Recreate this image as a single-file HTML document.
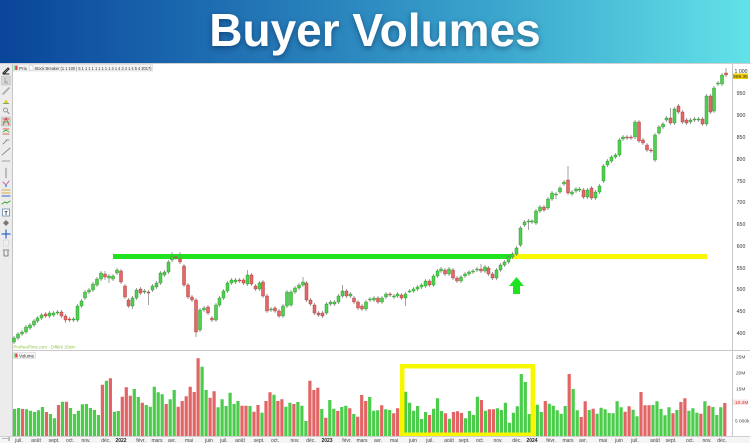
<!DOCTYPE html>
<html><head><meta charset="utf-8"><style>
html,body{margin:0;padding:0;background:#fff}
body{width:750px;height:443px;overflow:hidden;position:relative;font-family:"Liberation Sans",sans-serif}
#hdr{position:absolute;left:0;top:0;width:750px;height:63px;background:linear-gradient(90deg,#0a459a 0%,#1f6fb2 30%,#3aa3cc 65%,#62e2e8 100%)}
#ttl{position:absolute;left:0;top:7px;width:750px;text-align:center;font:bold 46px/46px "Liberation Sans",sans-serif;color:#fff;text-shadow:0 2px 6px rgba(0,20,60,.45)}
svg{position:absolute;left:0;top:0}
</style></head><body>
<div id="hdr"></div>
<div id="ttl">Buyer Volumes</div>
<svg width="750" height="443" viewBox="0 0 750 443" xmlns="http://www.w3.org/2000/svg" font-family="Liberation Sans, sans-serif">
<!-- chart frame -->
<rect x="0" y="63" width="750" height="380" fill="#fff"/>
<line x1="0" y1="63.5" x2="750" y2="63.5" stroke="#d0d0d0" stroke-width="1"/>
<!-- toolbar -->
<rect x="0" y="64" width="12" height="372" fill="#ececec"/>
<line x1="12.5" y1="64" x2="12.5" y2="436" stroke="#c4c4c4"/>
<g stroke-linecap="round">
<path d="M3 73l5-5 1 1-5 5zM3 74h6" stroke="#222" stroke-width="1" fill="none"/>
<rect x="1.5" y="76" width="9" height="9" fill="#d6d6d6" stroke="#bbb" stroke-width=".5"/>
<path d="M5 78v5l1.5-1.5 1 2" stroke="#999" stroke-width=".8" fill="none"/>
<path d="M3 94l6-6" stroke="#aaa" stroke-width="1.6"/>
<path d="M4 103q2-6 4 0z" fill="#e8c810"/><rect x="3" y="103" width="6" height="1" fill="#7a7"/>
<circle cx="5.5" cy="110" r="2" fill="none" stroke="#888" stroke-width=".8"/><path d="M7 111.5l2 2" stroke="#888"/>
<rect x="1.5" y="117" width="9" height="9" fill="#d6d6d6" stroke="#bbb" stroke-width=".5"/>
<path d="M3 125l3-7 3 7M3 119h6" stroke="#d33" stroke-width=".8" fill="none"/><path d="M3 122h6" stroke="#3b3" stroke-width=".8"/>
<path d="M3 129h6M3 134h6" stroke="#d33" stroke-width=".8"/><path d="M3 132l3-2 3 2" stroke="#3b3" stroke-width=".8" fill="none"/>
<path d="M3 144l4-4M6 140h3" stroke="#777" stroke-width=".8"/>
<path d="M2 155l8-7" stroke="#666" stroke-width=".7"/>
<path d="M2 161h8" stroke="#888" stroke-width=".7"/>
<path d="M6 168v10" stroke="#666" stroke-width=".7"/>
<path d="M3 182l3 3 3-4" stroke="#c6a" stroke-width="1" fill="none"/><circle cx="6" cy="186" r="1" fill="#39f"/>
<path d="M2 190h8M2 193h8" stroke="#da4" stroke-width="1"/><path d="M2 196h8" stroke="#36c" stroke-width="1"/>
<path d="M2 204l3-2 2 1 3-2" stroke="#3a3" stroke-width="1" fill="none"/>
<rect x="2.5" y="209" width="7" height="7" fill="#fff" stroke="#369" stroke-width=".6"/><text x="6" y="215" font-size="5" text-anchor="middle" font-weight="bold" fill="#222">T</text>
<path d="M3 223l3-3 3 3-3 3z" fill="#777"/>
<path d="M6 230v8M2 234h8" stroke="#36c" stroke-width="1.2"/>
<rect x="3.5" y="240" width="5" height="6" fill="#eee" stroke="#ccc" stroke-width=".5"/>
<path d="M3 250h6M4 251v5h4v-5" stroke="#666" stroke-width=".8" fill="none"/>
</g>
<!-- legend -->
<rect x="13.5" y="64.5" width="139" height="6.5" fill="#f4f4f4" stroke="#cfcfcf" stroke-width=".5"/>
<rect x="14.5" y="65.5" width="1.5" height="4.5" fill="#3c3"/><rect x="16" y="65.5" width="1.5" height="4.5" fill="#d44"/>
<text x="19" y="69.8" font-size="4.6" fill="#333">Prix</text>
<rect x="29.5" y="65.5" width="3.5" height="4.5" fill="#fff" stroke="#bbb" stroke-width=".4"/>
<text x="34.5" y="69.8" font-size="4.6" fill="#333" textLength="117" lengthAdjust="spacingAndGlyphs">Stock Breaker (1 1 100 | 5 1 1 1 1 1 1 1 1 1 4 1 4 2 4 1 4 5 4 2017)</text>
<!-- right axis -->
<line x1="732.5" y1="64" x2="732.5" y2="436" stroke="#c8c8c8"/>
<g font-size="5.2" fill="#333" text-anchor="middle">
<text x="741" y="72.8">1 000</text>
<text x="741" y="94.8">950</text>
<text x="741" y="116.8">900</text>
<text x="741" y="138.8">850</text>
<text x="741" y="160.8">800</text>
<text x="741" y="182.8">750</text>
<text x="741" y="203.8">700</text>
<text x="741" y="225.8">650</text>
<text x="741" y="247.8">600</text>
<text x="741" y="269.8">550</text>
<text x="741" y="290.8">500</text>
<text x="741" y="312.8">450</text>
<text x="741" y="334.8">400</text>
</g>
<rect x="733" y="73.5" width="15" height="5.5" fill="#f2d000"/>
<text x="740.5" y="77.9" font-size="4.8" fill="#333" text-anchor="middle">969.35</text>
<!-- separator -->
<line x1="12" y1="350.5" x2="750" y2="350.5" stroke="#c8c8c8"/>
<text x="13.5" y="348.5" font-size="4.4" fill="#8cc63f" textLength="62" lengthAdjust="spacingAndGlyphs">ProRealTime.com - Différé 15min</text>
<!-- levels -->
<rect x="113" y="254" width="398" height="5" fill="#1fe31f"/>
<rect x="511" y="254" width="196" height="5" fill="#f7f700"/>
<polygon points="509,286 516.5,277 524,286 520,286 520,294 513,294 513,286" fill="#1fe31f"/>
<!-- wicks -->
<path fill="none" stroke="#7c7c7c" stroke-width=".7" d="M14 336V344M18 332V340M22 330V336M26 325V334M30 323V330M34 319V327M37.5 316V323M41.5 313V320M45.5 312V318M49.5 311V318M53.5 311V317M57.5 310V315M61.5 310V318M65.5 314V323M69.5 317V322M73.5 317V322M77.5 304V322M81.5 299V308M85 290V300M89 288V294M93 282V292M97 277V287M101 271V281M105 271V280M109 274V283M113 274V281M117 268V275M121 269V284M125 284V299M128.5 298V308M132.5 296V309M136.5 288V300M140.5 287V295M144.5 289V294M148.5 290V305M152.5 284V292M156.5 281V289M160.5 271V285M164.5 270V277M168.5 260V274M172 252V262M176 255V260M180 252V264M184 264V287M188 283V299M192 295V302M196 298V337M200 308V332M204 306V312M208 305V315M212 316V322M216 303V322M219.5 296V307M223.5 289V300M227.5 281V293M231.5 278V285M235.5 278V284M239.5 278V283M243.5 278V285M247.5 270V286M251.5 273V286M255.5 284V291M259.5 281V291M263 280V298M267 294V313M271 307V312M275 306V313M279 309V318M283 304V318M287 290V308M291 290V307M295 286V294M299 283V290M303 277V287M306.5 281V302M310.5 298V306M314.5 303V315M318.5 311V317M322.5 311V318M326.5 302V315M330.5 300V306M334.5 300V306M338.5 294V304M342.5 285V298M346.5 289V298M350.5 292V298M354 296V304M358 300V310M362 304V311M366 300V311M370 297V302M374 296V302M378 296V304M382 296V304M386 292V299M390 292V297M394 294V299M397.5 292V298M401.5 293V300M405.5 292V306M409.5 289V293M413.5 287V293M417.5 285V291M421.5 283V289M425.5 279V288M429.5 279V287M433.5 274V287M437.5 269V278M441 267V273M445 268V276M449 267V276M453 268V280M457 276V283M461 275V283M465 272V278M469 270V276M473 269V274M477 267V272M481 264V273M485 265V273M488.5 266V276M492.5 272V280M496.5 268V280M500.5 263V272M504.5 260V267M508.5 255V264M512.5 252V259M516.5 246V256M520.5 226V247M524.5 220V227M528.5 219V230M532 219V224M536 209V225M540 205V213M544 205V212M548 197V210M552 191V201M556 192V199M560 186V194M564 180V186M568 166V195M572 190V196M576 187V193M579.5 187V192M583.5 188V199M587.5 188V199M591.5 186V200M595.5 190V200M599.5 184V194M603.5 164V183M607.5 159V167M611.5 155V163M615.5 153V159M619.5 138V157M623 135V141M627 135V140M631 135V140M635 120V139M639 120V143M643 138V145M647 143V152M651 148V153M655 133V162M659 125V135M663 122V129M666.5 116V122M670.5 108V125M674.5 107V125M678.5 104V114M682.5 110V124M686.5 118V125M690.5 118V124M694.5 117V122M698.5 117V122M702.5 117V126M706.5 94V126M710.5 94V114M714 86V113M718 81V86M722 73V86M726 68V77"/>
<!-- green bodies -->
<path fill="#4ed24e" stroke="#2b8f2b" stroke-width=".45" d="M12.5 338h3v4h-3zM16.5 334h3v4h-3zM20.5 332h3v2h-3zM24.5 327h3v5h-3zM28.5 325h3v3h-3zM32.5 321h3v4h-3zM36 318h3v3h-3zM40 315h3v3h-3zM48 313h3v3h-3zM52 313h3v2h-3zM56 312h3v1h-3zM72 319h3v1h-3zM76 306h3v14h-3zM80 301h3v5h-3zM83.5 292h3v6h-3zM87.5 290h3v2h-3zM91.5 284h3v6h-3zM95.5 279h3v6h-3zM99.5 273h3v6h-3zM107.5 276h3v2h-3zM111.5 276h3v3h-3zM115.5 270h3v3h-3zM131 298h3v8h-3zM135 290h3v8h-3zM143 291h3v1h-3zM151 286h3v4h-3zM155 283h3v4h-3zM159 273h3v10h-3zM163 272h3v3h-3zM167 262h3v10h-3zM170.5 257h3v3h-3zM198.5 310h3v20h-3zM202.5 308h3v2h-3zM214.5 305h3v15h-3zM218 298h3v7h-3zM222 291h3v7h-3zM226 283h3v8h-3zM230 280h3v3h-3zM234 280h3v2h-3zM246 275h3v9h-3zM258 283h3v6h-3zM269.5 309h3v1h-3zM281.5 306h3v10h-3zM285.5 292h3v14h-3zM289.5 292h3v13h-3zM293.5 288h3v4h-3zM297.5 285h3v3h-3zM301.5 282h3v3h-3zM325 304h3v9h-3zM329 302h3v2h-3zM333 302h3v2h-3zM337 296h3v6h-3zM341 291h3v5h-3zM349 294h3v2h-3zM364.5 302h3v7h-3zM368.5 299h3v1h-3zM372.5 298h3v2h-3zM380.5 298h3v4h-3zM384.5 294h3v3h-3zM392.5 296h3v1h-3zM396 294h3v2h-3zM404 294h3v4h-3zM408 291h3v1h-3zM412 289h3v2h-3zM416 287h3v2h-3zM420 285h3v2h-3zM424 281h3v5h-3zM432 276h3v9h-3zM436 271h3v5h-3zM439.5 269h3v2h-3zM447.5 269h3v5h-3zM459.5 277h3v4h-3zM463.5 274h3v2h-3zM467.5 272h3v2h-3zM471.5 271h3v1h-3zM475.5 269h3v1h-3zM483.5 267h3v4h-3zM495 270h3v8h-3zM499 265h3v5h-3zM503 262h3v3h-3zM507 257h3v5h-3zM511 254h3v3h-3zM515 248h3v6h-3zM519 228h3v17h-3zM523 222h3v3h-3zM527 221h3v1h-3zM530.5 221h3v1h-3zM534.5 211h3v12h-3zM538.5 207h3v4h-3zM546.5 199h3v9h-3zM550.5 193h3v6h-3zM554.5 194h3v1h-3zM558.5 188h3v4h-3zM562.5 182h3v2h-3zM570.5 192h3v2h-3zM574.5 189h3v2h-3zM578 189h3v1h-3zM586 190h3v7h-3zM594 192h3v6h-3zM598 186h3v6h-3zM602 166h3v15h-3zM606 161h3v4h-3zM610 157h3v4h-3zM614 155h3v2h-3zM618 140h3v15h-3zM621.5 137h3v2h-3zM633.5 122h3v15h-3zM653.5 135h3v25h-3zM657.5 127h3v6h-3zM661.5 124h3v3h-3zM665 118h3v2h-3zM673 109h3v14h-3zM689 120h3v2h-3zM693 119h3v1h-3zM697 119h3v1h-3zM705 96h3v28h-3zM712.5 88h3v23h-3zM716.5 83h3v1h-3zM720.5 75h3v9h-3z"/>
<!-- red bodies -->
<path fill="#e46868" stroke="#a83a3a" stroke-width=".45" d="M44 314h3v2h-3zM60 312h3v4h-3zM64 316h3v4h-3zM68 319h3v1h-3zM103.5 274h3v3h-3zM119.5 271h3v11h-3zM123.5 286h3v11h-3zM127 300h3v6h-3zM139 289h3v4h-3zM147 292h3v1h-3zM174.5 257h3v1h-3zM178.5 259h3v3h-3zM182.5 266h3v19h-3zM186.5 285h3v12h-3zM190.5 297h3v3h-3zM194.5 300h3v32h-3zM206.5 307h3v6h-3zM210.5 318h3v2h-3zM238 280h3v1h-3zM242 280h3v3h-3zM250 275h3v9h-3zM254 286h3v3h-3zM261.5 282h3v14h-3zM265.5 296h3v15h-3zM273.5 308h3v3h-3zM277.5 311h3v5h-3zM305 283h3v17h-3zM309 300h3v4h-3zM313 305h3v8h-3zM317 313h3v2h-3zM321 313h3v3h-3zM345 291h3v5h-3zM352.5 298h3v4h-3zM356.5 302h3v6h-3zM360.5 306h3v3h-3zM376.5 298h3v4h-3zM388.5 294h3v1h-3zM400 295h3v3h-3zM428 281h3v4h-3zM443.5 270h3v4h-3zM451.5 270h3v8h-3zM455.5 278h3v3h-3zM479.5 269h3v2h-3zM487 268h3v6h-3zM491 274h3v4h-3zM542.5 207h3v3h-3zM566.5 180h3v13h-3zM582 190h3v7h-3zM590 188h3v10h-3zM625.5 137h3v1h-3zM629.5 137h3v1h-3zM637.5 122h3v19h-3zM641.5 140h3v3h-3zM645.5 145h3v5h-3zM649.5 150h3v1h-3zM669 118h3v5h-3zM677 106h3v6h-3zM681 112h3v10h-3zM685 120h3v3h-3zM701 119h3v5h-3zM709 96h3v16h-3zM724.5 73h3v2h-3z"/>
<!-- volume legend -->
<rect x="13.5" y="352.5" width="22" height="6" fill="#f4f4f4" stroke="#cfcfcf" stroke-width=".5"/>
<rect x="14.5" y="353.5" width="1.5" height="4" fill="#3c3"/><rect x="16" y="353.5" width="1.5" height="4" fill="#d44"/>
<text x="19" y="357.4" font-size="4.4" fill="#333" textLength="15" lengthAdjust="spacingAndGlyphs">Volume</text>
<!-- volume bars -->
<path fill="#4bcd4b" d="M13 436V409h3.2V436zM17 436V408h3.2V436zM25 436V409.3h3.2V436zM29 436V410.7h3.2V436zM33 436V412h3.2V436zM36.9 436V410.3h3.2V436zM40.9 436V407h3.2V436zM48.9 436V414h3.2V436zM52.9 436V418.3h3.2V436zM60.9 436V401.7h3.2V436zM68.9 436V408h3.2V436zM72.9 436V414h3.2V436zM76.8 436V410.7h3.2V436zM80.8 436V404.3h3.2V436zM84.8 436V404h3.2V436zM88.8 436V408h3.2V436zM92.8 436V410h3.2V436zM96.8 436V415h3.2V436zM104.8 436V380.7h3.2V436zM112.8 436V411.7h3.2V436zM116.7 436V411h3.2V436zM132.7 436V389h3.2V436zM136.7 436V397h3.2V436zM144.7 436V405h3.2V436zM148.7 436V406.7h3.2V436zM152.7 436V386.7h3.2V436zM156.6 436V392.3h3.2V436zM160.6 436V394.3h3.2V436zM168.6 436V399.3h3.2V436zM172.6 436V390h3.2V436zM200.5 436V366.7h3.2V436zM204.5 436V390h3.2V436zM216.5 436V407.3h3.2V436zM220.5 436V399.3h3.2V436zM224.5 436V406h3.2V436zM228.5 436V392.7h3.2V436zM232.5 436V404h3.2V436zM236.4 436V401h3.2V436zM248.4 436V406h3.2V436zM260.4 436V412.7h3.2V436zM272.4 436V394.7h3.2V436zM284.3 436V406.7h3.2V436zM288.3 436V402.7h3.2V436zM296.3 436V402h3.2V436zM300.3 436V405.7h3.2V436zM304.3 436V421h3.2V436zM320.2 436V409h3.2V436zM328.2 436V400h3.2V436zM332.2 436V408.7h3.2V436zM340.2 436V407h3.2V436zM344.2 436V405.7h3.2V436zM352.2 436V414h3.2V436zM368.1 436V397h3.2V436zM372.1 436V410.7h3.2V436zM376.1 436V410.3h3.2V436zM384.1 436V409.3h3.2V436zM388.1 436V410h3.2V436zM400 436V416h3.2V436zM404 436V391.7h3.2V436zM408 436V402.7h3.2V436zM412 436V410.7h3.2V436zM416 436V406h3.2V436zM420 436V419h3.2V436zM424 436V412h3.2V436zM432 436V408.7h3.2V436zM435.9 436V398.3h3.2V436zM439.9 436V411h3.2V436zM447.9 436V418.7h3.2V436zM463.9 436V418.3h3.2V436zM467.9 436V411h3.2V436zM471.9 436V415h3.2V436zM475.8 436V396.7h3.2V436zM483.8 436V410.7h3.2V436zM495.8 436V408.3h3.2V436zM499.8 436V410h3.2V436zM503.8 436V402.7h3.2V436zM507.8 436V422.7h3.2V436zM511.8 436V412.7h3.2V436zM515.7 436V406.3h3.2V436zM519.7 436V374h3.2V436zM523.7 436V382h3.2V436zM527.7 436V414h3.2V436zM531.7 436V410h3.2V436zM535.7 436V404.7h3.2V436zM539.7 436V412h3.2V436zM547.7 436V403.7h3.2V436zM551.7 436V405.7h3.2V436zM555.6 436V410.3h3.2V436zM559.6 436V413.7h3.2V436zM563.6 436V406h3.2V436zM571.6 436V389h3.2V436zM575.6 436V410.3h3.2V436zM587.6 436V410h3.2V436zM595.5 436V413.7h3.2V436zM599.5 436V407.7h3.2V436zM603.5 436V409.3h3.2V436zM607.5 436V413h3.2V436zM611.5 436V413.3h3.2V436zM615.5 436V401.3h3.2V436zM619.5 436V407.3h3.2V436zM631.5 436V409.7h3.2V436zM635.4 436V416.3h3.2V436zM651.4 436V405h3.2V436zM655.4 436V401.3h3.2V436zM659.4 436V409h3.2V436zM663.4 436V415.3h3.2V436zM667.4 436V407.3h3.2V436zM675.3 436V410h3.2V436zM687.3 436V410.7h3.2V436zM691.3 436V408.3h3.2V436zM695.3 436V412.7h3.2V436zM703.3 436V401.3h3.2V436zM711.3 436V407h3.2V436zM715.2 436V415h3.2V436zM719.2 436V407.3h3.2V436z"/>
<path fill="#e26464" d="M21 436V409h3.2V436zM44.9 436V412h3.2V436zM56.9 436V405h3.2V436zM64.9 436V401.7h3.2V436zM100.8 436V384.7h3.2V436zM108.8 436V378.3h3.2V436zM120.7 436V396.7h3.2V436zM124.7 436V387.3h3.2V436zM128.7 436V395.7h3.2V436zM140.7 436V402.7h3.2V436zM164.6 436V404h3.2V436zM176.6 436V406.7h3.2V436zM180.6 436V401h3.2V436zM184.6 436V396.3h3.2V436zM188.6 436V386.7h3.2V436zM192.6 436V392h3.2V436zM196.5 436V358.3h3.2V436zM208.5 436V397.7h3.2V436zM212.5 436V391.3h3.2V436zM240.4 436V405.7h3.2V436zM244.4 436V405.7h3.2V436zM252.4 436V411.7h3.2V436zM256.4 436V405h3.2V436zM264.4 436V401h3.2V436zM268.4 436V392.3h3.2V436zM276.3 436V401h3.2V436zM280.3 436V399.3h3.2V436zM292.3 436V404h3.2V436zM308.3 436V380.7h3.2V436zM312.3 436V390h3.2V436zM316.2 436V387.7h3.2V436zM324.2 436V417.7h3.2V436zM336.2 436V411h3.2V436zM348.2 436V408.3h3.2V436zM356.1 436V416.7h3.2V436zM360.1 436V395h3.2V436zM364.1 436V401h3.2V436zM380.1 436V405.3h3.2V436zM392.1 436V413.3h3.2V436zM396 436V408.3h3.2V436zM428 436V415h3.2V436zM443.9 436V413.3h3.2V436zM451.9 436V412h3.2V436zM455.9 436V411.3h3.2V436zM459.9 436V413h3.2V436zM479.8 436V400h3.2V436zM487.8 436V409.3h3.2V436zM491.8 436V409.3h3.2V436zM543.7 436V401h3.2V436zM567.6 436V374h3.2V436zM579.6 436V417h3.2V436zM583.6 436V401.3h3.2V436zM591.6 436V408.7h3.2V436zM623.5 436V411.7h3.2V436zM627.5 436V406.3h3.2V436zM639.4 436V392h3.2V436zM643.4 436V405.3h3.2V436zM647.4 436V405.3h3.2V436zM671.4 436V413.3h3.2V436zM679.3 436V402h3.2V436zM683.3 436V398.3h3.2V436zM699.3 436V413.7h3.2V436zM707.3 436V405.7h3.2V436zM723.2 436V403h3.2V436z"/>
<!-- yellow box -->
<rect x="402.2" y="366.2" width="130.6" height="68.6" fill="none" stroke="#f7f700" stroke-width="4.5"/>
<!-- volume axis -->
<g font-size="4.8" fill="#444">
<text x="736" y="358.7">25M</text>
<text x="736" y="374.7">20M</text>
<text x="736" y="390.7">15M</text>
<text x="735" y="422.7">5 000k</text>
</g>
<rect x="733" y="399.5" width="15" height="5.5" fill="#fbe3e3"/>
<text x="735" y="403.9" font-size="4.8" fill="#d33">10.4M</text>
<!-- x axis -->
<rect x="0" y="436" width="750" height="7" fill="#f5f5f5"/>
<line x1="0" y1="436.5" x2="750" y2="436.5" stroke="#cfcfcf"/>
<path d="M2.5 438.5h1M4.5 438.5h1M6.5 438.5h1M9 437v4" stroke="#555" stroke-width=".7"/>
<g font-size="5" fill="#444" text-anchor="middle">
<text x="19" y="441.8">juil.</text><text x="36" y="441.8">août</text><text x="54" y="441.8">sept.</text><text x="70" y="441.8">oct.</text><text x="86" y="441.8">nov.</text><text x="106" y="441.8">déc.</text>
<text x="121" y="441.8" font-weight="bold" fill="#222">2022</text>
<text x="141" y="441.8">févr.</text><text x="157" y="441.8">mars</text><text x="172" y="441.8">avr.</text><text x="189" y="441.8">mai</text><text x="209" y="441.8">juin</text><text x="224" y="441.8">juil.</text><text x="240" y="441.8">août</text><text x="259" y="441.8">sept.</text><text x="275" y="441.8">oct.</text><text x="295" y="441.8">nov.</text><text x="311" y="441.8">déc.</text>
<text x="327" y="441.8" font-weight="bold" fill="#222">2023</text>
<text x="347" y="441.8">févr.</text><text x="362" y="441.8">mars</text><text x="378" y="441.8">avr.</text><text x="394" y="441.8">mai</text><text x="413" y="441.8">juin</text><text x="430" y="441.8">juil.</text><text x="449" y="441.8">août</text><text x="464" y="441.8">sept.</text><text x="480" y="441.8">oct.</text><text x="498" y="441.8">nov.</text><text x="517" y="441.8">déc.</text>
<text x="532" y="441.8" font-weight="bold" fill="#222">2024</text>
<text x="551" y="441.8">févr.</text><text x="568" y="441.8">mars</text><text x="583" y="441.8">avr.</text><text x="603" y="441.8">mai</text><text x="619" y="441.8">juin</text><text x="635" y="441.8">juil.</text><text x="655" y="441.8">août</text><text x="671" y="441.8">sept.</text><text x="690" y="441.8">oct.</text><text x="707" y="441.8">nov.</text><text x="722" y="441.8">déc.</text>
</g>
</svg>
</body></html>
